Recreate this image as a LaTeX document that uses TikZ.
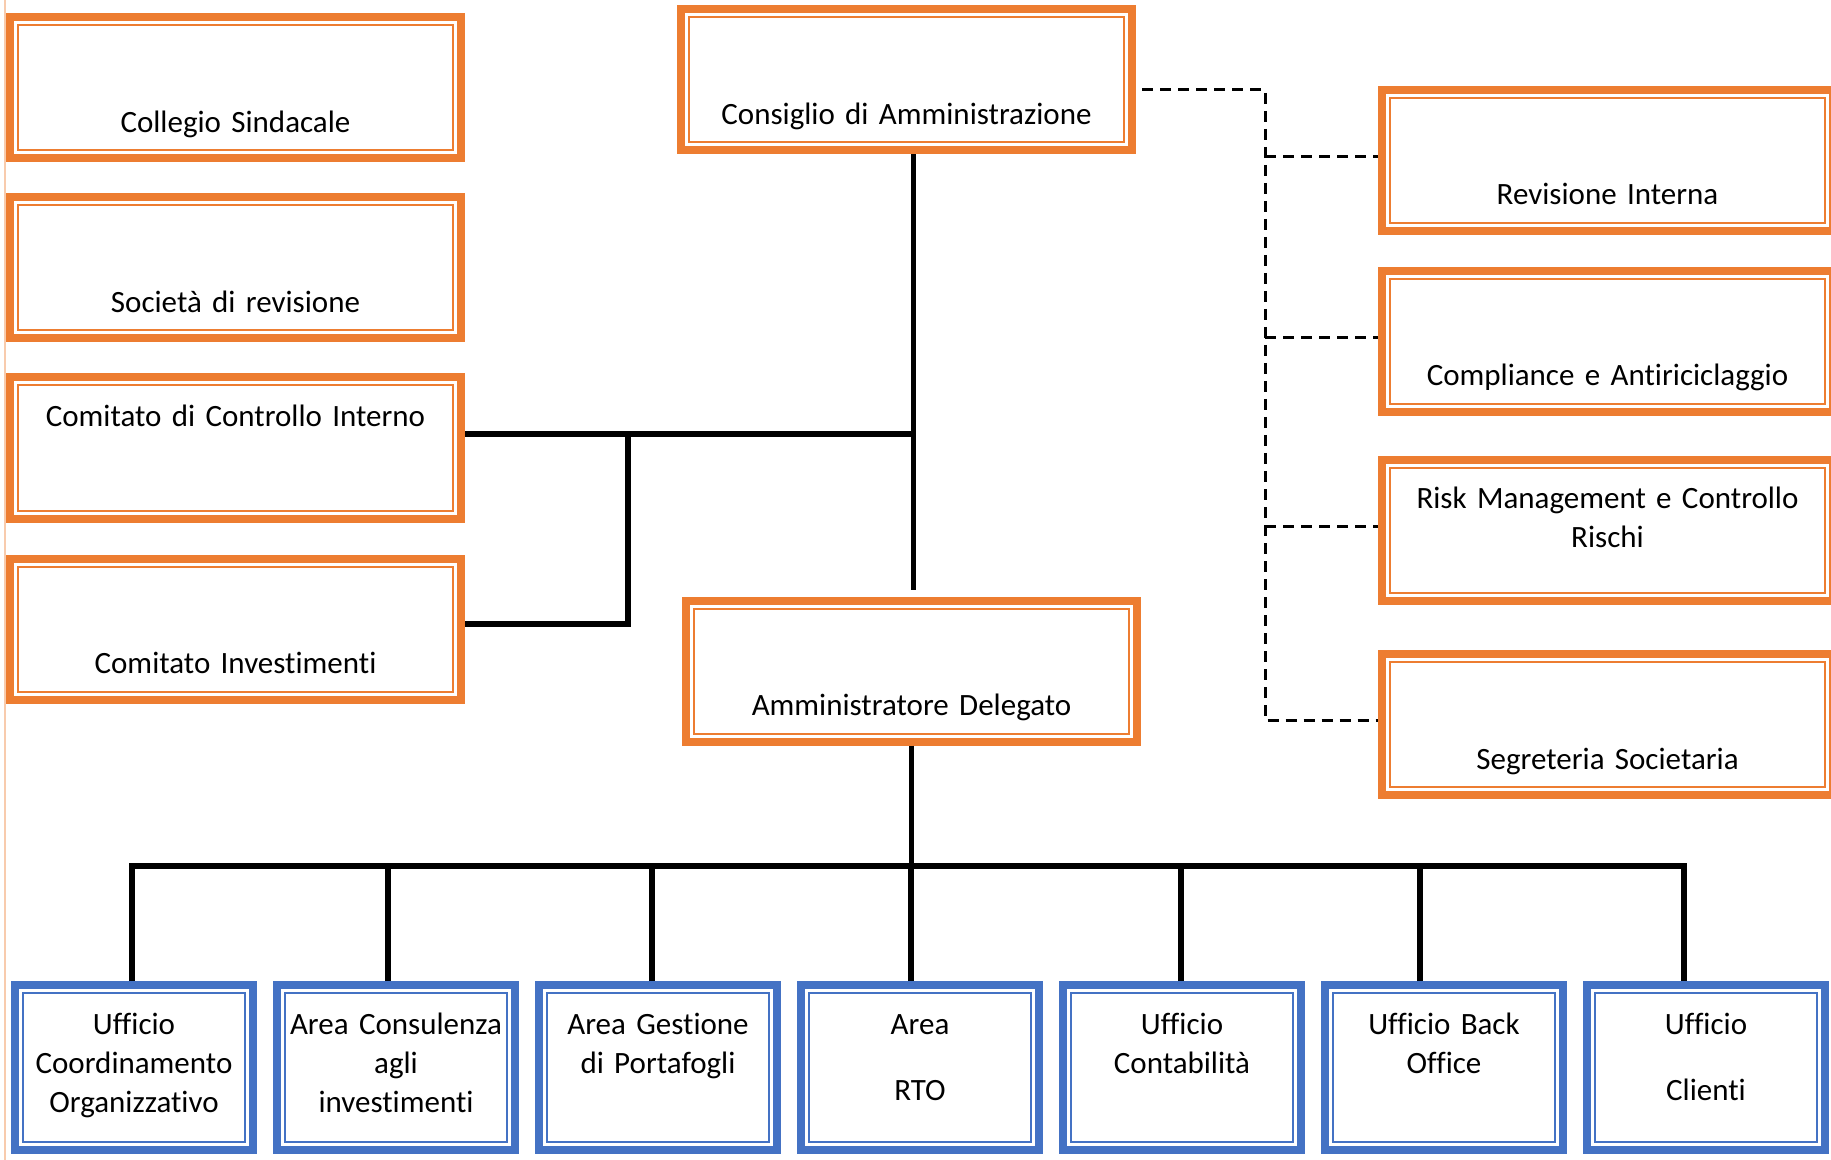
\documentclass[tikz,border=0pt]{standalone}
\usepackage{fontspec}
\setmainfont{Carlito}[Ligatures=NoCommon]
\usetikzlibrary{positioning}
\usetikzlibrary{calc}
\definecolor{orgc}{HTML}{ED7D31}
\definecolor{bluc}{HTML}{4472C4}
\definecolor{pagec}{HTML}{F8CBAD}

\begin{document}
\begin{tikzpicture}[x=0.5pt, y=-0.5pt,
  font=\fontsize{15.5pt}{19.5pt}\selectfont,
  F/.style={draw=#1, line width=4pt, inner sep=0pt, align=center,
    path picture={\draw[#1, line width=1pt]
      ([shift={(4pt,4pt)}]path picture bounding box.south west) rectangle
      ([shift={(-4pt,-4pt)}]path picture bounding box.north east);}},
  O/.style={F=orgc, text width=225.5pt},
  lo/.style={text height=57.5pt, text depth=13pt},
  hi/.style={text height=24.5pt, text depth=46pt},
  B/.style={F=bluc, text width=119pt, text height=24.5pt, text depth=58pt},
  ln/.style={line width=2.75pt},
  dl/.style={line width=1.5pt, dash pattern=on 5.5pt off 3.5pt}]
  \useasboundingbox (0,0) rectangle (1831,1160);
  \fill[white] (0,0) rectangle (1831,1160);
  \clip (0,0) rectangle (1831,1160);
  \draw[pagec, line width=0.6pt] (5,0) -- (5,1160);

  \node[O, lo] (cs) at (235.5,88) {Collegio Sindacale};
  \node[O, lo, below=15.5pt of cs] (sr) {Società di revisione};
  \node[O, hi, below=15.5pt of sr] (cci) {Comitato di Controllo Interno};
  \node[O, lo, below=16pt of cci] (ci) {Comitato Investimenti};

  \node[O, lo] (cda) at (906.5,80) {Consiglio di Amministrazione};
  \node[O, lo] (ad) at (911.5,671) {Amministratore Delegato};

  \node[O, lo] (ri) at (1607.5,160.5) {Revisione Interna};
  \node[O, lo, below=16pt of ri] (ca) {Compliance e Antiriciclaggio};
  \node[O, hi, below=20pt of ca] (rm) {Risk Management e Controllo\\Rischi};
  \node[O, lo, below=22.5pt of rm] (ss) {Segreteria Societaria};

  \node[B] (u1) at (134,1067.5) {Ufficio\\Coordinamento\\Organizzativo};
  \node[B, right=8pt of u1] (u2) {Area Consulenza\\agli\\investimenti};
  \node[B, right=8pt of u2] (u3) {Area Gestione\\di Portafogli};
  \node[B, right=8pt of u3] (u4) {Area\\[13.5pt]RTO};
  \node[B, right=8pt of u4] (u5) {Ufficio\\Contabilità};
  \node[B, right=8pt of u5] (u6) {Ufficio Back\\Office};
  \node[B, right=8pt of u6] (u7) {Ufficio\\[13.5pt]Clienti};

  \coordinate (sp) at ([xshift=3.5pt]cda.south);
  \coordinate (jl) at (628,434);
  \coordinate (bus) at (911,866);
  \coordinate (dv) at (1265,90);

  \draw[ln, shorten >=3.5pt] (sp) -- (sp |- ad.north);
  \draw[ln] (cci.east |- jl) -- (jl -| sp);
  \draw[ln] ([yshift=2.5pt]ci.east) -| (jl);

  \draw[ln] (ad.south) -- (ad.south |- bus);
  \draw[ln] ([xshift=-1pt]u1.north) |- (bus) -| ([xshift=-11pt]u7.north);
  \foreach \n/\s in {u2/-4, u3/-3, u4/-4.5, u5/-0.5, u6/-12}
    \draw[ln] ([xshift=\s pt]\n.north) -- ([xshift=\s pt]\n.north |- bus);

  \draw[dl] ([xshift=3pt]cda.east |- dv) -- (dv) |- ([yshift=2pt]ss.west);
  \foreach \n in {ri, ca, rm}
    \draw[dl] ([yshift=2pt]\n.west -| dv) -- ([yshift=2pt]\n.west);
\end{tikzpicture}
\end{document}
